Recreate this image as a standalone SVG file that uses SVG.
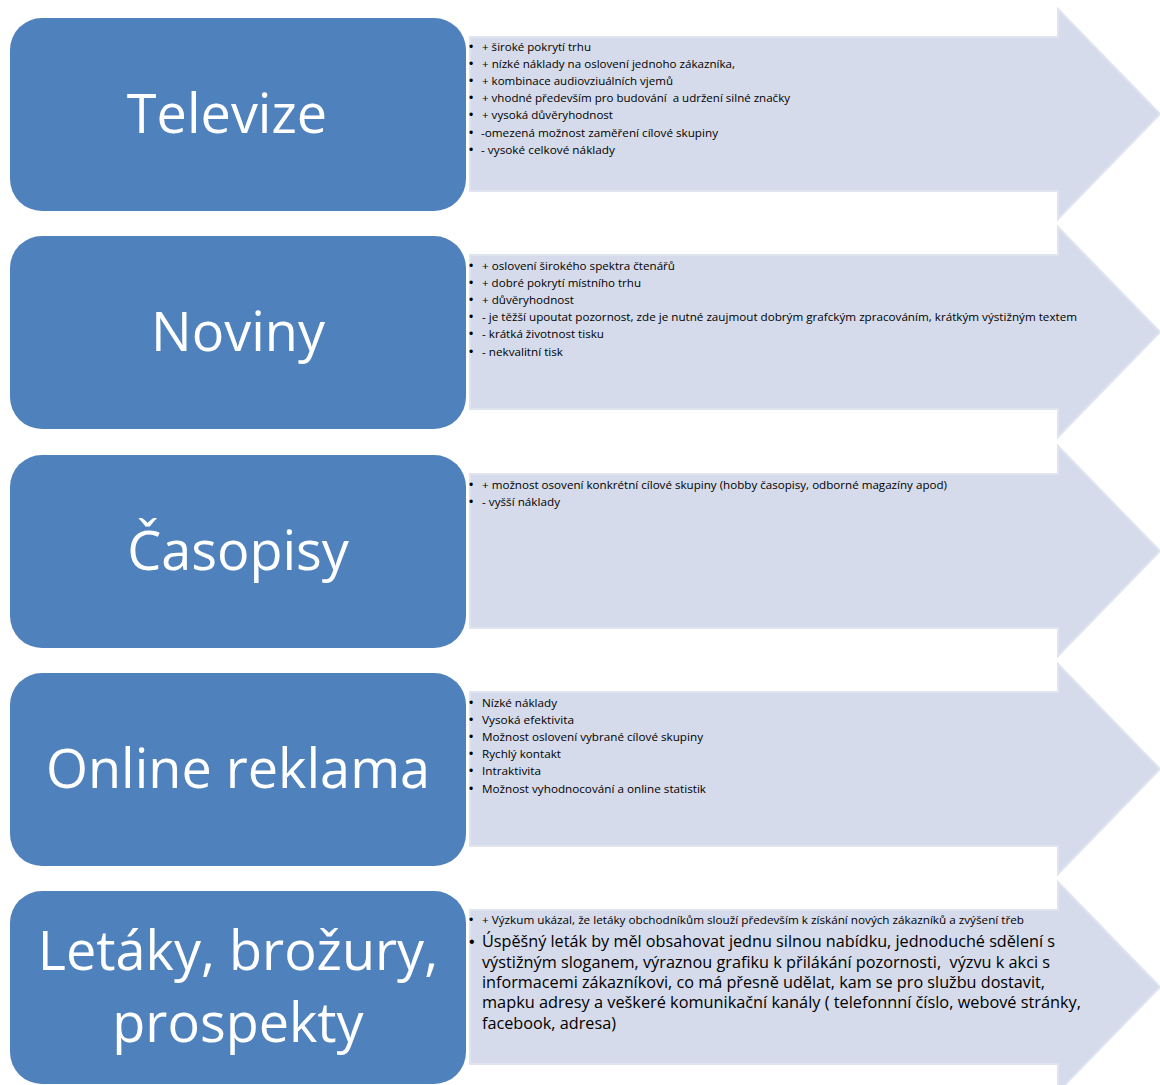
<svg xmlns="http://www.w3.org/2000/svg" width="1160" height="1085" viewBox="0 0 1160 1085">
<defs>
<style>
.box{fill:#4f81bd;}
.arr{fill:#d5dbea;stroke:#dfe4f0;stroke-width:2;}
.title{font-family:"Open Sans","Noto Sans",sans-serif;font-size:54px;fill:#ffffff;text-anchor:middle;}
.t{font-family:"Open Sans","Noto Sans",sans-serif;font-size:11.5px;fill:#000000;}
.tl{font-family:"Open Sans","Noto Sans",sans-serif;font-size:16px;fill:#000000;}
.b{font-family:"Liberation Sans",sans-serif;font-size:12px;fill:#000000;}
.bl{font-family:"Liberation Sans",sans-serif;font-size:16px;fill:#000000;}
</style>
</defs>
<rect width="1160" height="1085" fill="#ffffff"/>
<g id="connectors"/>

<g id="node-televize">
<path class="arr" d="M470,37 H1058 V9 L1160,114 L1058,219 V191 H470 Z"/>
<rect class="box" x="10" y="18" width="456" height="193" rx="32"/>
<text class="title" x="227" y="133">Televize</text>
<g class="b"><text x="469" y="51">•</text><text x="469" y="68">•</text><text x="469" y="85">•</text><text x="469" y="102">•</text><text x="469" y="119">•</text><text x="469" y="137">•</text><text x="469" y="154">•</text></g>
<text class="t" x="482" y="51" textLength="109" lengthAdjust="spacingAndGlyphs">+ široké pokrytí trhu</text>
<text class="t" x="482" y="68" textLength="253" lengthAdjust="spacingAndGlyphs">+ nízké náklady na oslovení jednoho zákazníka,</text>
<text class="t" x="482" y="85" textLength="191" lengthAdjust="spacingAndGlyphs">+ kombinace audiovziuálních vjemů</text>
<text class="t" x="482" y="102" textLength="308" lengthAdjust="spacingAndGlyphs" xml:space="preserve">+ vhodné především pro budování  a udržení silné značky</text>
<text class="t" x="482" y="119" textLength="131" lengthAdjust="spacingAndGlyphs">+ vysoká důvěryhodnost</text>
<text class="t" x="481" y="137" textLength="237" lengthAdjust="spacingAndGlyphs">-omezená možnost zaměření cílové skupiny</text>
<text class="t" x="481" y="154" textLength="134" lengthAdjust="spacingAndGlyphs">- vysoké celkové náklady</text>
</g>

<g id="node-noviny">
<path class="arr" d="M470,255 H1058 V227 L1160,332 L1058,437 V409 H470 Z"/>
<rect class="box" x="10" y="236" width="456" height="193" rx="32"/>
<text class="title" x="238" y="351">Noviny</text>
<g class="b"><text x="469" y="270">•</text><text x="469" y="287">•</text><text x="469" y="304">•</text><text x="469" y="321">•</text><text x="469" y="338">•</text><text x="469" y="356">•</text></g>
<text class="t" x="482" y="270" textLength="193" lengthAdjust="spacingAndGlyphs">+ oslovení širokého spektra čtenářů</text>
<text class="t" x="482" y="287" textLength="159" lengthAdjust="spacingAndGlyphs">+ dobré pokrytí místního trhu</text>
<text class="t" x="482" y="304" textLength="92" lengthAdjust="spacingAndGlyphs">+ důvěryhodnost</text>
<text class="t" x="482" y="321" textLength="595" lengthAdjust="spacingAndGlyphs">- je těžší upoutat pozornost, zde je nutné zaujmout dobrým grafckým zpracováním, krátkým výstižným textem</text>
<text class="t" x="482" y="338" textLength="122" lengthAdjust="spacingAndGlyphs">- krátká životnost tisku</text>
<text class="t" x="482" y="356" textLength="81" lengthAdjust="spacingAndGlyphs">- nekvalitní tisk</text>
</g>

<g id="node-casopisy">
<path class="arr" d="M470,474 H1058 V446 L1160,551 L1058,656 V628 H470 Z"/>
<rect class="box" x="10" y="455" width="456" height="193" rx="32"/>
<text class="title" x="238" y="570">Časopisy</text>
<g class="b"><text x="469" y="489">•</text><text x="469" y="506">•</text></g>
<text class="t" x="482" y="489" textLength="465" lengthAdjust="spacingAndGlyphs">+ možnost osovení konkrétní cílové skupiny (hobby časopisy, odborné magazíny apod)</text>
<text class="t" x="482" y="506" textLength="78" lengthAdjust="spacingAndGlyphs">- vyšší náklady</text>
</g>

<g id="node-online">
<path class="arr" d="M470,692 H1058 V664 L1160,769 L1058,874 V846 H470 Z"/>
<rect class="box" x="10" y="673" width="456" height="193" rx="32"/>
<text class="title" x="238" y="788">Online reklama</text>
<g class="b"><text x="469" y="707">•</text><text x="469" y="724">•</text><text x="469" y="741">•</text><text x="469" y="758">•</text><text x="469" y="775">•</text><text x="469" y="793">•</text></g>
<text class="t" x="482" y="707" textLength="75" lengthAdjust="spacingAndGlyphs">Nízké náklady</text>
<text class="t" x="482" y="724" textLength="92" lengthAdjust="spacingAndGlyphs">Vysoká efektivita</text>
<text class="t" x="482" y="741" textLength="221" lengthAdjust="spacingAndGlyphs">Možnost oslovení vybrané cílové skupiny</text>
<text class="t" x="482" y="758" textLength="79" lengthAdjust="spacingAndGlyphs">Rychlý kontakt</text>
<text class="t" x="482" y="775" textLength="59" lengthAdjust="spacingAndGlyphs">Intraktivita</text>
<text class="t" x="482" y="793" textLength="224" lengthAdjust="spacingAndGlyphs">Možnost vyhodnocování a online statistik</text>
</g>

<g id="node-letaky">
<path class="arr" d="M470,910 H1058 V882 L1160,987 L1058,1092 V1064 H470 Z"/>
<rect class="box" x="10" y="891" width="456" height="193" rx="32"/>
<text class="title" x="238" y="970">Letáky, brožury,</text>
<text class="title" x="238" y="1042">prospekty</text>
<text class="b" x="469" y="924">•</text>
<text class="t" x="482" y="924" textLength="542" lengthAdjust="spacingAndGlyphs">+ Výzkum ukázal, že letáky obchodníkům slouží především k získání nových zákazníků a zvýšení třeb</text>
<text class="bl" x="469" y="947">•</text>
<text class="tl" x="482" y="947" textLength="573" lengthAdjust="spacingAndGlyphs">Úspěšný leták by měl obsahovat jednu silnou nabídku, jednoduché sdělení s</text>
<text class="tl" x="482" y="968" textLength="568" lengthAdjust="spacingAndGlyphs" xml:space="preserve">výstižným sloganem, výraznou grafiku k přilákání pozornosti,  výzvu k akci s</text>
<text class="tl" x="482" y="988" textLength="563" lengthAdjust="spacingAndGlyphs">informacemi zákazníkovi, co má přesně udělat, kam se pro službu dostavit,</text>
<text class="tl" x="482" y="1008" textLength="599" lengthAdjust="spacingAndGlyphs">mapku adresy a veškeré komunikační kanály ( telefonnní číslo, webové stránky,</text>
<text class="tl" x="482" y="1029" textLength="134" lengthAdjust="spacingAndGlyphs">facebook, adresa)</text>
</g>
</svg>
